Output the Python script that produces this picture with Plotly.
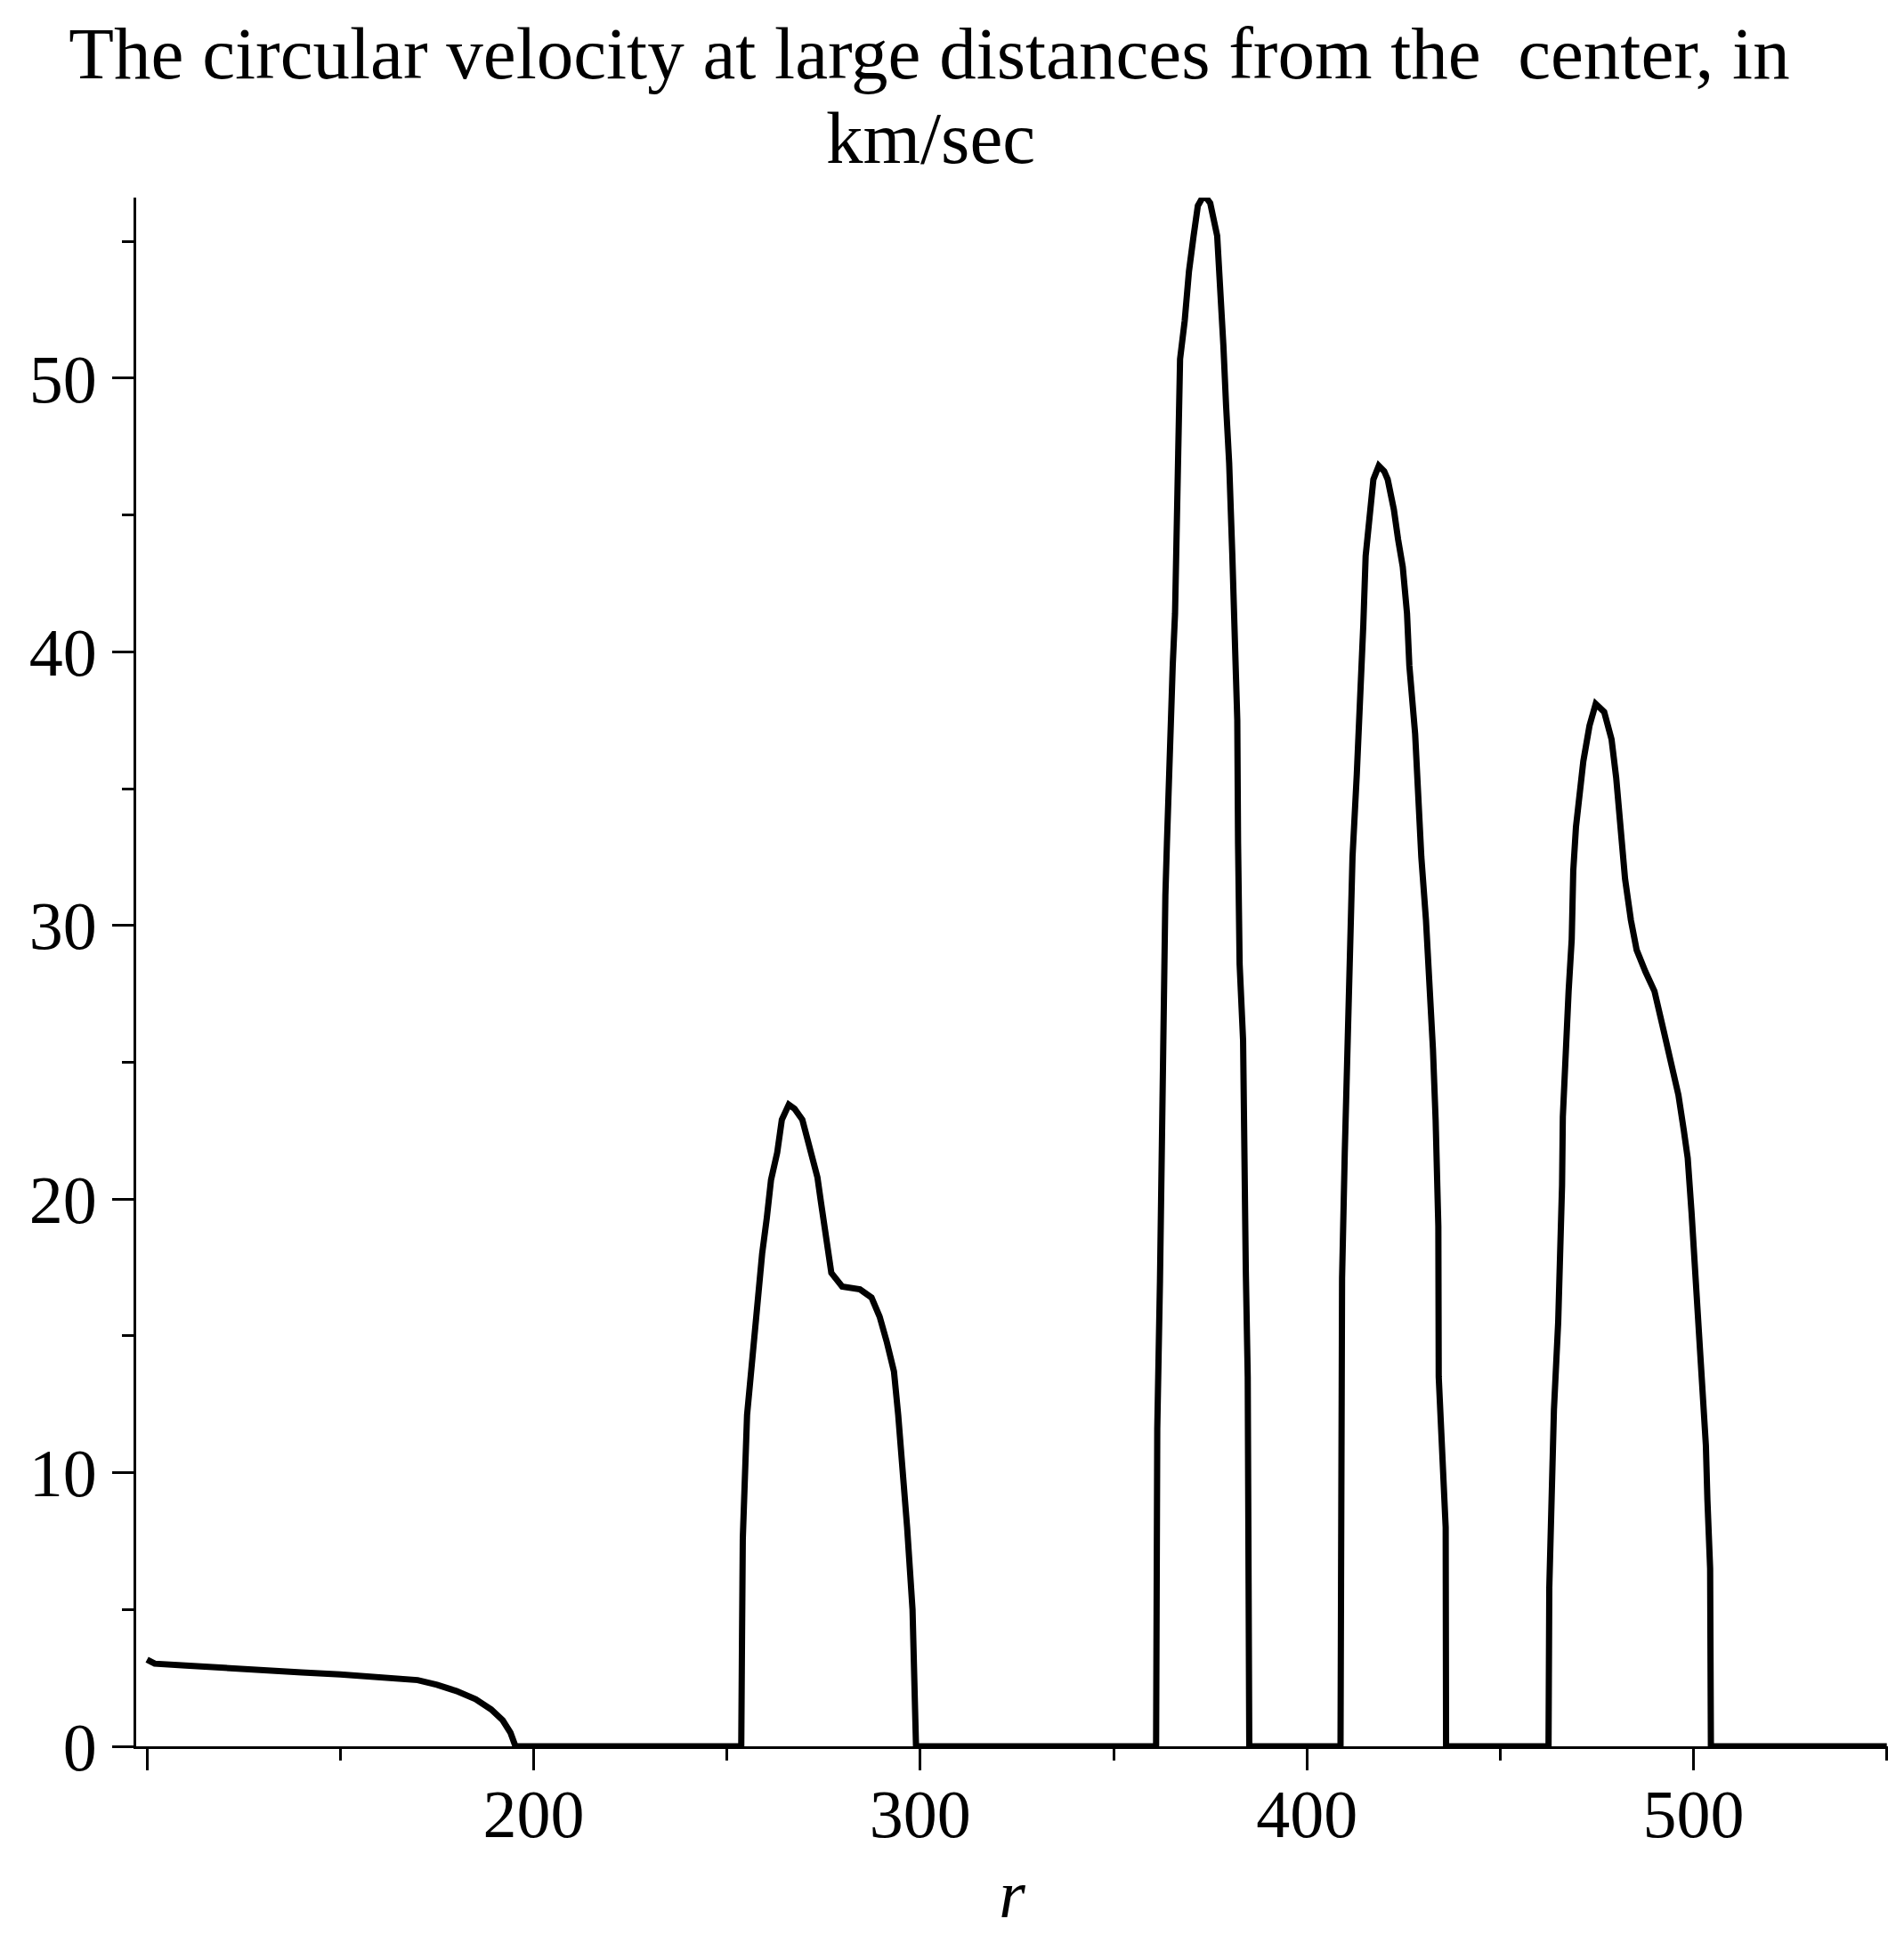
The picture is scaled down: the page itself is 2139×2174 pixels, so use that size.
import plotly.graph_objects as go

# circular velocity curve (r, v in km/sec)
r_inner = [100.0, 102.0, 110.0, 120.0, 130.0, 140.0, 150.0, 160.0, 170.0, 175.0,
           180.0, 185.0, 189.0, 192.0, 194.0, 195.3]
v_inner = [3.17, 3.02, 2.95, 2.85, 2.78, 2.70, 2.63, 2.55, 2.42, 2.25,
           2.02, 1.72, 1.35, 0.95, 0.50, 0.0]

r_peak2 = [253.7, 253.9, 254.1, 255.2, 256.6, 258.0, 259.1, 260.3, 261.4, 263.0,
           264.2, 266.0, 267.5, 269.5, 270.6, 272.0, 273.4, 274.3, 275.2, 276.0,
           277.0, 279.8, 284.4, 287.4, 289.5, 291.3, 293.2, 294.3, 295.5, 296.6,
           298.0, 298.9]
v_peak2 = [0.0, 4.0, 7.6, 12.1, 14.4, 16.2, 18.0, 19.3, 20.7, 21.7,
           22.9, 23.45, 23.3, 22.9, 22.3, 21.6, 20.8, 19.9, 19.0, 17.9,
           17.3, 16.8, 16.7, 16.4, 15.7, 14.8, 13.7, 12.1, 10.2, 8.0,
           5.0, 0.0]

r_peak3 = [361.0, 361.1, 361.3, 362.0, 362.3, 362.5, 363.4, 363.8, 364.4, 365.3,
           365.9, 366.2, 366.5, 367.2, 368.4, 369.5, 370.7, 371.8, 373.4, 375.0,
           376.8, 377.6, 378.4, 379.1, 379.9, 380.7, 381.2, 382.0, 382.2, 382.6,
           383.5, 383.8, 384.2, 384.7, 384.9, 385.0, 385.1]
v_peak3 = [0.0, 6.0, 11.6, 17.0, 20.6, 24.9, 31.1, 33.0, 36.0, 39.5,
           41.4, 43.6, 46.5, 50.7, 52.1, 53.9, 55.2, 56.3, 56.7, 56.4,
           55.2, 53.4, 51.2, 49.0, 46.9, 43.6, 41.4, 37.5, 33.0, 28.6,
           25.8, 21.0, 17.4, 13.5, 8.0, 3.0, 0.0]

r_peak4 = [408.7, 408.8, 409.0, 409.1, 409.8, 410.2, 411.0, 411.3, 411.8, 412.9,
           413.6, 414.2, 414.6, 415.2, 415.9, 417.2, 418.6, 420.0, 420.9, 422.5,
           423.6, 424.8, 425.9, 426.5, 428.0, 428.8, 429.6, 430.8, 431.9, 432.6,
           433.3, 434.0, 434.1, 435.3, 435.9, 436.0]
v_peak4 = [0.0, 5.5, 12.0, 17.1, 21.7, 23.8, 27.0, 30.0, 32.5, 35.5,
           37.5, 39.5, 41.0, 43.5, 44.7, 46.3, 46.8, 46.6, 46.3, 45.2,
           44.1, 43.1, 41.4, 39.5, 37.0, 34.5, 32.5, 30.2, 27.5, 25.5,
           22.9, 19.0, 13.5, 10.5, 8.0, 0.0]

r_peak5 = [462.5, 462.7, 463.3, 463.9, 465.0, 465.5, 466.0, 466.2, 466.9, 467.7,
           468.5, 468.9, 469.6, 470.4, 471.5, 473.1, 474.7, 476.9, 478.8, 480.0,
           481.1, 482.3, 483.8, 485.3, 487.6, 489.9, 492.2, 494.1, 496.1, 497.5,
           498.5, 499.5, 500.5, 501.3, 502.2, 503.2, 503.6, 504.3, 504.5, 550.0]
v_peak5 = [0.0, 5.8, 9.0, 12.3, 15.5, 17.8, 20.5, 23.0, 25.4, 27.6,
           29.5, 32.0, 33.6, 34.6, 36.0, 37.3, 38.1, 37.8, 36.8, 35.4,
           33.4, 31.7, 30.2, 29.1, 28.3, 27.6, 26.2, 25.1, 23.8, 22.5,
           21.5, 19.5, 17.0, 15.5, 13.6, 11.0, 9.0, 6.5, 0.0, 0.0]

x_ticks = [100, 200, 300, 400, 500]
x_tick_labels = ["", "200", "300", "400", "500"]
x_minor = [150, 250, 350, 450, 550]
y_ticks = [0, 10, 20, 30, 40, 50]
y_minor = [5, 15, 25, 35, 45, 55]

title_line1 = "The circular velocity at large distances from the  center, in"
title_line2 = "km/sec"

r = r_inner + r_peak2 + r_peak3 + r_peak4 + r_peak5
v = v_inner + v_peak2 + v_peak3 + v_peak4 + v_peak5

font_family = "Liberation Serif, Times New Roman, serif"

fig = go.Figure()
fig.add_trace(go.Scatter(x=r, y=v, mode="lines", cliponaxis=False,
                         line=dict(color="black", width=7), showlegend=False))

fig.update_layout(
    width=2139, height=2174,
    margin=dict(l=145, r=26, t=214, b=220),
    paper_bgcolor="white", plot_bgcolor="white",
    font=dict(family=font_family, size=76, color="black"),
    title=dict(text=title_line1,
               x=1036 / 2139, xref="container", xanchor="center",
               y=1 - 22 / 2174, yref="container", yanchor="top",
               font=dict(family=font_family, size=83, color="black")),
)

# second title line placed on its own to keep the tight line spacing
fig.add_annotation(text=title_line2, showarrow=False,
                   xref="paper", yref="paper",
                   x=(1037 - 145) / 1968, xanchor="center",
                   y=1 + (214 - 147) / 1740, yanchor="middle",
                   font=dict(family=font_family, size=83, color="black"))

fig.update_xaxes(range=[97.2, 550.3], showgrid=False, zeroline=False,
                 showline=True, linecolor="black", linewidth=3,
                 tickmode="array", tickvals=x_ticks, ticktext=x_tick_labels,
                 ticks="outside", ticklen=24, tickwidth=3, tickcolor="black",
                 minor=dict(tickvals=x_minor, ticks="outside", ticklen=13,
                            tickwidth=3, tickcolor="black", showgrid=False),
                 tickfont=dict(size=76), ticklabelstandoff=-16,
                 title=dict(text="<i>r</i>", standoff=22, font=dict(size=76)))

fig.update_yaxes(range=[0, 56.6], showgrid=False, zeroline=False,
                 showline=True, linecolor="black", linewidth=3,
                 tickmode="array", tickvals=y_ticks,
                 ticks="outside", ticklen=24, tickwidth=3, tickcolor="black",
                 minor=dict(tickvals=y_minor, ticks="outside", ticklen=13,
                            tickwidth=3, tickcolor="black", showgrid=False),
                 tickfont=dict(size=76), ticklabelstandoff=2)

fig.write_html("out.html")
